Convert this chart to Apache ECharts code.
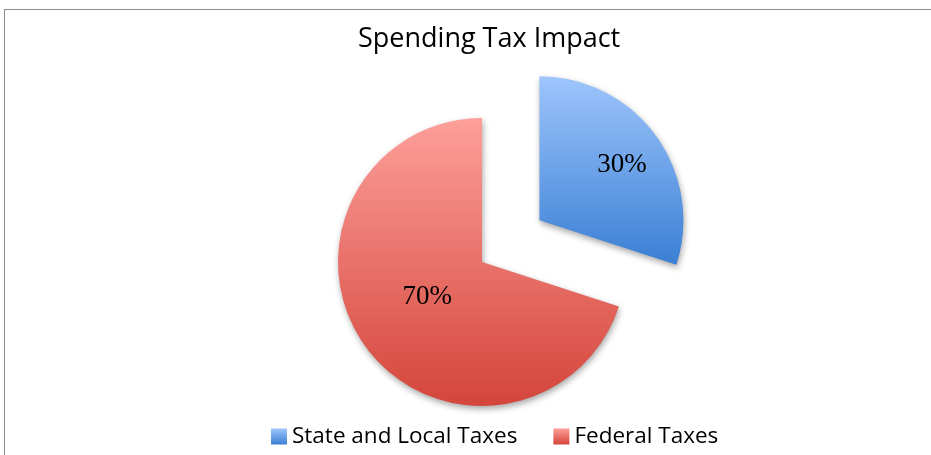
<!DOCTYPE html>
<html>
<head>
<meta charset="utf-8">
<script src="https://cdn.jsdelivr.net/npm/echarts@6/dist/echarts.min.js"></script>
<style>
  body { margin: 0; background: #fff; }
  #wrap { position: relative; width: 931px; height: 455px; }
  #frame { position: absolute; left: 4px; top: 9px; right: 0; bottom: 0;
           border-top: 1px solid #8c8c8c; border-left: 1px solid #8c8c8c; }
  #myChart { position: absolute; left: 0; top: 0; width: 931px; height: 455px; }
</style>
</head>
<body>
<div id="wrap">
  <div id="frame"></div>
  <div id="myChart"></div>
</div>
<script>
// 数据
var categories = ["State and Local Taxes", "Federal Taxes"];
var values = [30, 70];
var titleText = "Spending Tax Impact";

// 渐变色
var gradients = [
  ["#9ec5fc", "#3a7fd4"],
  ["#fd9f9a", "#d4453a"]
];
// 标签微调
var labelShift = [[22, -11], [6, -9]];

var myChart = echarts.init(document.getElementById("myChart"));

var pieData = categories.map(function (name, i) {
  return {
    name: name,
    value: values[i],
    selected: i === 0,
    itemStyle: {
      color: new echarts.graphic.LinearGradient(0, 0, 0, 1, [
        { offset: 0, color: gradients[i][0] },
        { offset: 1, color: gradients[i][1] }
      ])
    }
  };
});

myChart.setOption({
  animation: false,
  title: {
    text: titleText,
    left: 353,
    top: 21,
    textStyle: {
      fontFamily: "Open Sans",
      fontWeight: "normal",
      fontSize: 27,
      color: "#000"
    }
  },
  legend: {
    bottom: 2,
    left: 266,
    icon: "rect",
    itemWidth: 16,
    itemHeight: 16,
    itemGap: 36,
    selectedMode: false,
    textStyle: {
      fontFamily: "Open Sans",
      fontSize: 22.5,
      color: "#000"
    },
    data: categories
  },
  series: [
    {
      type: "pie",
      center: [482, 262],
      radius: [0, 144],
      startAngle: 90,
      clockwise: true,
      selectedMode: "single",
      selectedOffset: 71,
      silent: true,
      itemStyle: {
        shadowBlur: 6,
        shadowOffsetX: 1,
        shadowOffsetY: 3,
        shadowColor: "rgba(0,0,0,0.35)"
      },
      label: {
        show: true,
        position: "inside",
        formatter: "{d}%",
        fontFamily: "Liberation Serif",
        fontSize: 27,
        color: "#000"
      },
      labelLine: { show: false },
      labelLayout: function (params) {
        var s = labelShift[params.dataIndex];
        return { dx: s[0], dy: s[1] };
      },
      data: pieData
    }
  ]
});
</script>
</body>
</html>
